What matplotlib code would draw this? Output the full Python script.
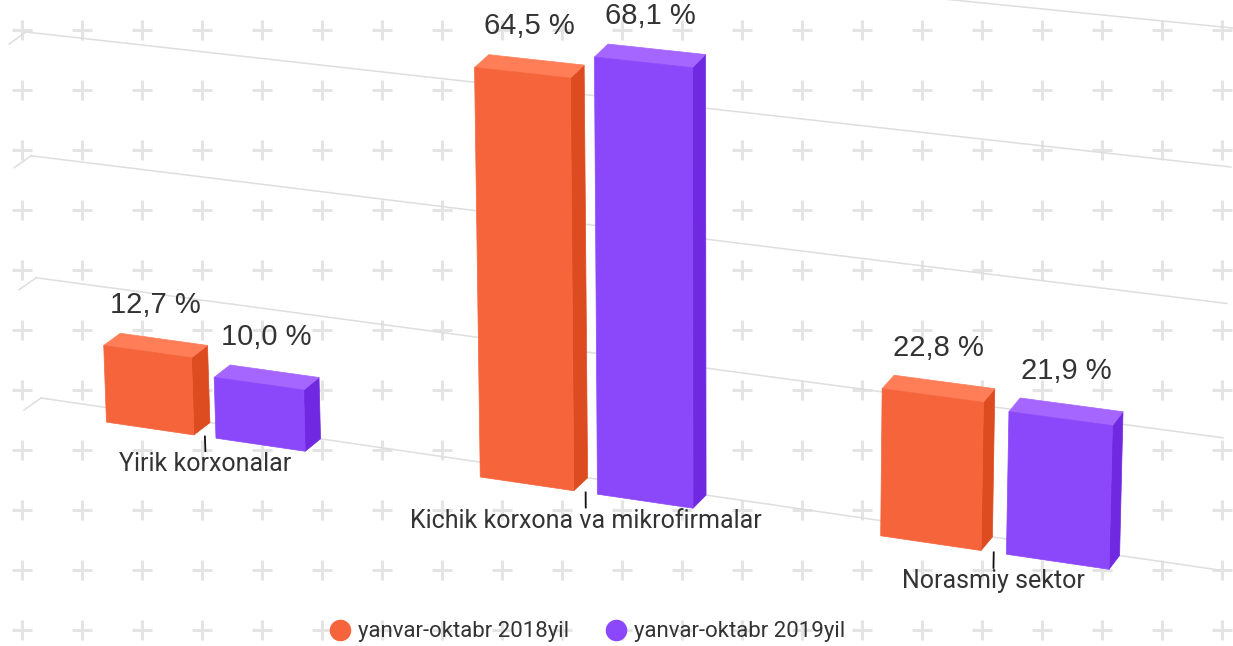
import numpy as np
import matplotlib
matplotlib.use("Agg")
import matplotlib.pyplot as plt
import matplotlib.transforms as mtransforms
from matplotlib.patches import Polygon
from matplotlib.lines import Line2D

# data
categories = ["Yirik korxonalar", "Kichik korxona va mikrofirmalar", "Norasmiy sektor"]
series_names = ["yanvar-oktabr 2018yil", "yanvar-oktabr 2019yil"]
values_2018 = [12.7, 64.5, 22.8]
values_2019 = [10.0, 68.1, 21.9]
grid_values = [0, 20, 40, 60, 80]

# colours: front, top, side
orange = ("#F6643C", "#FF7E57", "#DD4B20")
purple = ("#8B47FA", "#A566FF", "#7029E0")
text_color = "#333333"

W, H = 1233, 646
plt.rcParams["font.family"] = ["Roboto", "DejaVu Sans"]


def homography(src, dst):
    # 4 point projective mapping, flat chart coords -> picture pixels
    A, b = [], []
    for (x, y), (u, v) in zip(src, dst):
        A.append([x, y, 1, 0, 0, 0, -u * x, -u * y])
        A.append([0, 0, 0, x, y, 1, -v * x, -v * y])
        b += [u, v]
    h = np.linalg.solve(np.array(A, float), np.array(b, float))
    return np.append(h, 1.0).reshape(3, 3)


class Perspective(mtransforms.Transform):
    input_dims = 2
    output_dims = 2
    is_separable = False

    def __init__(self, M):
        super().__init__()
        self.M = M

    def transform_non_affine(self, values):
        values = np.asarray(values, dtype=float).reshape(-1, 2)
        p = np.column_stack([values, np.ones(len(values))]) @ self.M.T
        return p[:, :2] / p[:, 2:3]


fig = plt.figure(figsize=(W / 100, H / 100), dpi=100)
ax = fig.add_axes([0, 0, 1, 1])
ax.set_xlim(0, W)
ax.set_ylim(H, 0)
ax.axis("off")

# perspective of the tilted chart: front plane and back wall
flat_box = [(-0.5, 0), (2.5, 0), (2.5, 60), (-0.5, 60)]
front = Perspective(homography(flat_box, [(24, 410), (1209, 584), (1221, 181), (9, 44)]))
back = Perspective(homography(flat_box, [(41, 398), (1219, 570), (1231, 167), (26, 32)]))
front_tr = front + ax.transData
back_tr = back + ax.transData

# background plus pattern
px, py = np.meshgrid(np.arange(22, W + 20, 60), np.arange(30, H + 20, 60))
ax.plot(px.ravel(), py.ravel(), "+", ms=14.5, mew=2.2, color="#e4e4e4", zorder=0)

# grid on back wall + short depth segments at the left
for gv in grid_values:
    ax.plot([-0.5, 2.5], [gv, gv], transform=back_tr, color="#dedede", lw=1.1, zorder=1)
    seg = np.vstack([front.transform([(-0.5, gv)]), back.transform([(-0.5, gv)])])
    ax.plot(seg[:, 0], seg[:, 1], color="#dedede", lw=1.1, zorder=1)

x = np.arange(len(categories))
bw, gap = 0.24, 0.06
for k, (vals, cols) in enumerate([(values_2018, orange), (values_2019, purple)]):
    shift = (bw + gap) / 2 * (1 if k else -1)
    bars = ax.bar(x + shift, vals, width=bw, color=cols[0], edgecolor=cols[0],
                  lw=0.5, transform=front_tr, zorder=4)
    for r, v in zip(bars, vals):
        x0, x1, top = r.get_x(), r.get_x() + r.get_width(), r.get_height()
        f = front.transform([(x0, top), (x1, top), (x1, 0)])
        b = back.transform([(x0, top), (x1, top), (x1, 0)])
        ax.add_patch(Polygon([f[1], f[2], b[2], b[1]], closed=True, fc=cols[2],
                             ec=cols[2], lw=0.5, zorder=3))
        ax.add_patch(Polygon([f[0], f[1], b[1], b[0]], closed=True, fc=cols[1],
                             ec=cols[1], lw=0.5, zorder=3))
        mid = (f[0] + f[1] + b[0] + b[1]) / 4
        ax.annotate(f"{v:.1f}".replace(".", ",") + " %", xy=mid, xytext=(0, 29),
                    textcoords="offset points", ha="center", va="center",
                    fontsize=21, family="Liberation Sans", color=text_color, zorder=6)

# category ticks and labels
for c, name in zip(x, categories):
    ax.plot([c, c], [0, -2.4], transform=front_tr, color="#111111", lw=1.3, zorder=5)
    ax.annotate(name, xy=(c, -2.4), xycoords=front_tr, xytext=(0, -1),
                textcoords="offset points", ha="center", va="top",
                fontsize=18, color=text_color, zorder=6)

handles = [Line2D([], [], ls="", marker="o", ms=14.5, color=orange[0]),
           Line2D([], [], ls="", marker="o", ms=14.5, color=purple[0])]
ax.legend(handles, series_names, loc="center", bbox_to_anchor=(587 / W, 1 - 632 / H),
          ncol=2, frameon=False, fontsize=16, handlelength=1.0, handletextpad=0.3,
          columnspacing=1.6, labelcolor=text_color)

fig.savefig("out.png", dpi=100)
